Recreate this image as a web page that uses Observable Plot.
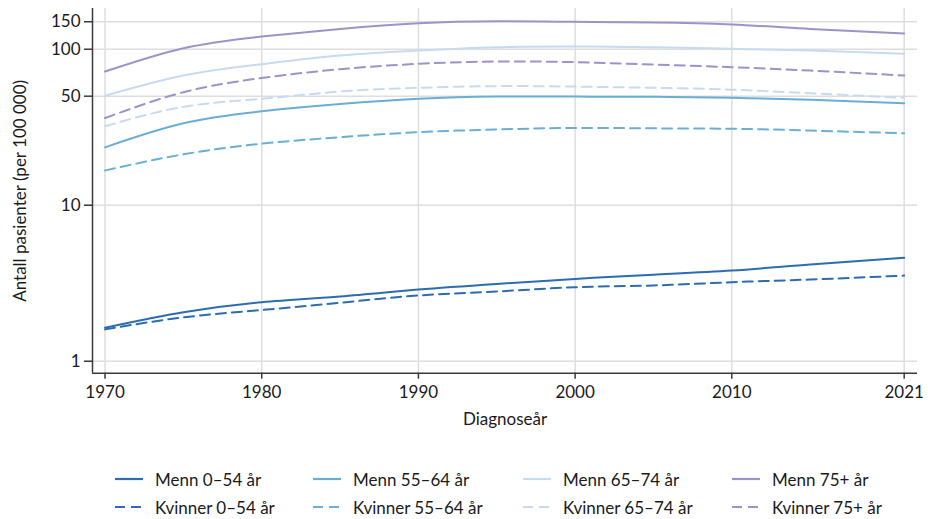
<!DOCTYPE html>
<html>
<head>
<meta charset="utf-8">
<script src="https://cdn.jsdelivr.net/npm/d3@7"></script>
<script src="https://cdn.jsdelivr.net/npm/@observablehq/plot@0.6"></script>
<style>
  html, body { margin: 0; padding: 0; background: #fff; }
  #wrap { position: relative; width: 928px; height: 519px; font-family: Lato, "Open Sans", sans-serif; color: #1a1a1a; }
  #wrap svg { display: block; }
  .key { position: absolute; display: flex; align-items: center; font-size: 17px; white-space: nowrap; }
  .key svg { margin-right: 12px; }
</style>
</head>
<body>
<div id="wrap"></div>
<script>
// Diagnosis years sampled along each curve
const years = [1970, 1975, 1980, 1985, 1990, 1995, 2000, 2005, 2010, 2015, 2021];

// Patients per 100 000, men
const menn_0_54  = [1.64, 2.06, 2.39, 2.60, 2.88, 3.13, 3.37, 3.59, 3.81, 4.17, 4.60];
const menn_55_64 = [23.5, 33.5, 40.0, 44.5, 48.1, 49.7, 49.7, 49.5, 48.8, 47.4, 45.1];
const menn_65_74 = [50.3, 67.8, 80.2, 91.0, 98.1, 103, 104, 103, 100.6, 98, 93.4];
const menn_75    = [71.9, 101.5, 120.6, 135, 146.8, 151, 149.9, 148.4, 144, 135, 126];

// Patients per 100 000, women
const kvinner_0_54  = [1.60, 1.91, 2.13, 2.37, 2.64, 2.80, 2.98, 3.06, 3.21, 3.34, 3.54];
const kvinner_55_64 = [16.7, 21.2, 24.8, 27.3, 29.4, 30.6, 31.3, 31.1, 30.9, 30.1, 28.9];
const kvinner_65_74 = [32.1, 42.7, 48.1, 53.6, 56.6, 58, 57.6, 56.6, 55, 52.2, 48.8];
const kvinner_75    = [36.2, 53.0, 65.4, 74.5, 80.6, 83.4, 82.6, 79.8, 76.7, 73, 67.8];

// Age groups and their colours
const ageGroups = ["0–54 år", "55–64 år", "65–74 år", "75+ år"];
const ageColors = ["#2b6db0", "#6aaed6", "#c6dbef", "#9a94c9"];

// Axis ticks and extents
const xTicks = [1970, 1980, 1990, 2000, 2010, 2021];
const yTicks = [1, 10, 50, 100, 150];
const xDomain = [1969.2, 2021.85];
const yDomain = [0.838, 182.4];

const mennSeries = [menn_0_54, menn_55_64, menn_65_74, menn_75];
const kvinnerSeries = [kvinner_0_54, kvinner_55_64, kvinner_65_74, kvinner_75];

const toRows = (series) => series.flatMap((vals, i) =>
  vals.map((v, j) => ({year: years[j], value: v, group: ageGroups[i]})));

const mennRows = toRows(mennSeries);
const kvinnerRows = toRows(kvinnerSeries);

const gridStyle = {stroke: "#dedede", strokeOpacity: 1, strokeWidth: 1.5};
const axisColor = "#3a3a3a";

const chart = Plot.plot({
  width: 928,
  height: 445,
  marginLeft: 92,
  marginRight: 11,
  marginTop: 8,
  marginBottom: 72.3,
  style: {fontFamily: "Lato, 'Open Sans', sans-serif", fontSize: "17px", color: "#1a1a1a", background: "white", overflow: "visible"},
  x: {domain: xDomain, label: null},
  y: {type: "log", domain: yDomain, label: null},
  color: {domain: ageGroups, range: ageColors},
  marks: [
    Plot.gridX(xTicks, gridStyle),
    Plot.gridY(yTicks, gridStyle),
    Plot.line(mennRows, {x: "year", y: "value", z: "group", stroke: "group", strokeWidth: 2, curve: "natural"}),
    Plot.line(kvinnerRows, {x: "year", y: "value", z: "group", stroke: "group", strokeWidth: 2, strokeDasharray: "10,6", curve: "natural"}),
    Plot.ruleX([xDomain[0]], {stroke: axisColor, strokeWidth: 1.5}),
    Plot.ruleY([yDomain[0]], {stroke: axisColor, strokeWidth: 1.5}),
    Plot.axisX(xTicks, {tickFormat: d => String(d), tickSize: 6, tickPadding: 7, stroke: axisColor, strokeWidth: 1.5, label: null}),
    Plot.axisY(yTicks, {tickFormat: d => String(d), tickSize: 8, tickPadding: 4, stroke: axisColor, strokeWidth: 1.5, label: null}),
    Plot.text(["Diagnoseår"], {frameAnchor: "bottom", dy: 52, fontSize: 17, fill: "#1a1a1a"}),
    Plot.text(["Antall pasienter (per 100 000)"], {frameAnchor: "left", textAnchor: "middle", rotate: -90, dx: -72, fontSize: 17, fill: "#1a1a1a"})
  ]
});

const wrap = document.getElementById("wrap");
wrap.appendChild(chart);

// Legend: solid for men, dashed for women, one column per age group
const colLineX = [115, 313, 523, 732];
const rowY = [479, 507];
const rows = [
  {prefix: "Menn", dash: null},
  {prefix: "Kvinner", dash: "10,6"}
];
rows.forEach((row, r) => {
  ageGroups.forEach((g, c) => {
    const item = document.createElement("div");
    item.className = "key";
    item.style.left = colLineX[c] + "px";
    item.style.top = (rowY[r] - 12) + "px";
    item.style.height = "24px";
    const sw = d3.create("svg").attr("width", 28).attr("height", 4);
    sw.append("line").attr("x1", 0).attr("x2", 28).attr("y1", 2).attr("y2", 2)
      .attr("stroke", ageColors[c]).attr("stroke-width", 2.2)
      .attr("stroke-dasharray", row.dash);
    item.appendChild(sw.node());
    const label = document.createElement("span");
    label.textContent = row.prefix + " " + g;
    item.appendChild(label);
    wrap.appendChild(item);
  });
});
</script>
</body>
</html>
